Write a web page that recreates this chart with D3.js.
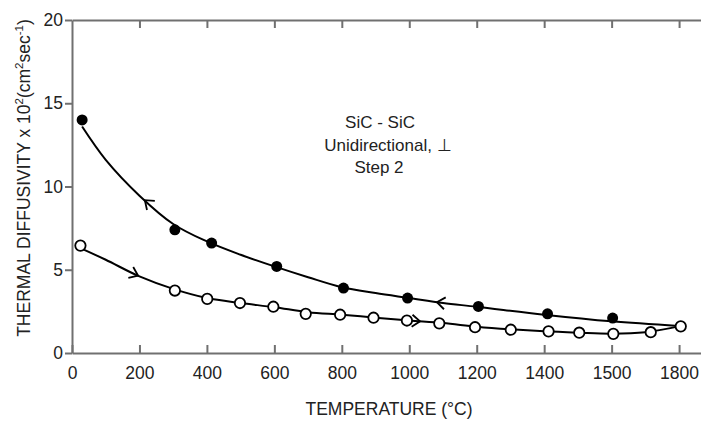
<!DOCTYPE html>
<meta charset="utf-8">
<script src="https://d3js.org/d3.v7.min.js"></script>
<style>
  body { margin: 0; background: #fff; }
  text { font-family: "Liberation Sans", Arial, sans-serif; fill: #222; }
</style>
<div id="my_dataviz"></div>
<script>

// measured points, cooling (filled) and heating (open)
var coolTemp = [30, 305, 414, 607, 805, 995, 1205, 1410, 1603];
var coolDiff = [14.0, 7.4, 6.6, 5.2, 3.9, 3.3, 2.8, 2.35, 2.1];
var heatTemp = [25, 305, 401, 498, 597, 693, 795, 894, 993, 1089, 1195, 1301, 1413, 1504, 1605, 1716, 1805];
var heatDiff = [6.45, 3.75, 3.25, 3.0, 2.78, 2.35, 2.3, 2.12, 1.95, 1.78, 1.55, 1.4, 1.3, 1.22, 1.15, 1.25, 1.6];

// hand drawn curves through the points
var coolCurveT = [30, 100, 200, 300, 400, 500, 600, 700, 800, 900, 1000, 1100, 1200, 1400, 1600, 1800];
var coolCurveD = [13.6, 11.6, 9.45, 7.75, 6.7, 5.9, 5.2, 4.55, 3.95, 3.6, 3.3, 3.0, 2.78, 2.3, 1.9, 1.62];
var heatCurveT = [25, 100, 200, 300, 400, 500, 600, 700, 800, 900, 1000, 1100, 1200, 1300, 1400, 1500, 1600, 1700, 1800];
var heatCurveD = [6.3, 5.6, 4.6, 3.85, 3.3, 3.0, 2.75, 2.45, 2.3, 2.12, 1.95, 1.8, 1.58, 1.42, 1.3, 1.22, 1.16, 1.25, 1.6];

// direction arrows on the curves
var coolArrowT = [216, 1082];
var heatArrowT = [196, 1032];

// axis ticks (the original figure prints 1500 at the 1600 mark)
var xTicks = [0, 200, 400, 600, 800, 1000, 1200, 1400, 1600, 1800];
var xTickLabels = ["0", "200", "400", "600", "800", "1000", "1200", "1400", "1500", "1800"];
var yTicks = [0, 5, 10, 15, 20];

var noteLines = ["SiC - SiC", "Unidirectional, \u22A5", "Step 2"];

var W = 701, H = 421;
var svg = d3.select("#my_dataviz")
  .append("svg")
    .attr("width", W)
    .attr("height", H);

var x = d3.scaleLinear().domain([0, 1865]).range([72, 701]);
var y = d3.scaleLinear().domain([0, 20]).range([353, 20]);

var axisColor = "#707070";

// bottom axis, ticks pointing inward
var gx = svg.append("g")
  .attr("transform", "translate(0," + y(0) + ")")
  .call(d3.axisBottom(x).tickValues(xTicks).tickSize(-8).tickSizeOuter(0)
    .tickFormat(function(d, i) { return xTickLabels[i]; }));
gx.selectAll("text").attr("y", 14).style("font-size", "17.5px").attr("fill", "#222");

// top frame line with ticks
svg.append("g")
  .attr("transform", "translate(0," + y(20) + ")")
  .call(d3.axisTop(x).tickValues(xTicks.slice(1)).tickSize(-8).tickSizeOuter(0).tickFormat(""));

// left axis
var gy = svg.append("g")
  .attr("transform", "translate(" + x(0) + ",0)")
  .call(d3.axisLeft(y).tickValues(yTicks).tickSize(7).tickPadding(2).tickSizeOuter(0));
gy.selectAll("text").style("font-size", "17.5px").attr("fill", "#222");

svg.selectAll(".domain, .tick line")
  .attr("stroke", axisColor)
  .attr("stroke-width", 2);

// axis titles
svg.append("text")
  .attr("x", 389)
  .attr("y", 415)
  .attr("text-anchor", "middle")
  .style("font-size", "17.5px")
  .text("TEMPERATURE (\u00B0C)");

var yl = svg.append("text")
  .attr("transform", "translate(30,178) rotate(-90)")
  .attr("text-anchor", "middle")
  .style("font-size", "17.5px");
yl.append("tspan").text("THERMAL DIFFUSIVITY x 10");
yl.append("tspan").attr("dy", -7).style("font-size", "11.5px").text("2");
yl.append("tspan").attr("dy", 7).text("(cm");
yl.append("tspan").attr("dy", -7).style("font-size", "11.5px").text("2");
yl.append("tspan").attr("dy", 7).text("sec");
yl.append("tspan").attr("dy", -7).style("font-size", "11.5px").text("-1");
yl.append("tspan").attr("dy", 7).text(")");

// curves
var line = d3.line()
  .x(function(d) { return x(d[0]); })
  .y(function(d) { return y(d[1]); })
  .curve(d3.curveCatmullRom.alpha(0.5));

var coolCurve = coolCurveT.map(function(t, i) { return [t, coolCurveD[i]]; });
var heatCurve = heatCurveT.map(function(t, i) { return [t, heatCurveD[i]]; });

svg.append("path").datum(coolCurve)
  .attr("d", line).attr("fill", "none").attr("stroke", "#000").attr("stroke-width", 2);
svg.append("path").datum(heatCurve)
  .attr("d", line).attr("fill", "none").attr("stroke", "#000").attr("stroke-width", 2);

// arrow chevrons, oriented along the curve
function drawArrows(temps, curveT, curveD, dir) {
  var f = d3.scaleLinear().domain(curveT).range(curveD);
  temps.forEach(function(t) {
    var px = x(t), py = y(f(t));
    var dx = x(t + 20) - x(t - 20), dy = y(f(t + 20)) - y(f(t - 20));
    var ang = Math.atan2(dy, dx) * 180 / Math.PI + (dir < 0 ? 180 : 0);
    svg.append("path")
      .attr("d", "M-8,-6L0,0L-8,6")
      .attr("transform", "translate(" + px + "," + py + ") rotate(" + ang + ")")
      .attr("fill", "none")
      .attr("stroke", "#000")
      .attr("stroke-width", 1.8);
  });
}
drawArrows(coolArrowT, coolCurveT, coolCurveD, -1);
drawArrows(heatArrowT, heatCurveT, heatCurveD, 1);

// points
svg.selectAll("circle.cool")
  .data(coolTemp)
  .enter().append("circle")
  .attr("class", "cool")
  .attr("cx", function(d) { return x(d); })
  .attr("cy", function(d, i) { return y(coolDiff[i]); })
  .attr("r", 5.5)
  .attr("fill", "#000");

svg.selectAll("circle.heat")
  .data(heatTemp)
  .enter().append("circle")
  .attr("class", "heat")
  .attr("cx", function(d) { return x(d); })
  .attr("cy", function(d, i) { return y(heatDiff[i]); })
  .attr("r", 5.2)
  .attr("fill", "#fff")
  .attr("stroke", "#000")
  .attr("stroke-width", 1.8);

// note
svg.selectAll("text.note")
  .data(noteLines)
  .enter().append("text")
  .attr("class", "note")
  .attr("x", function(d, i) { return [380, 388, 379][i]; })
  .attr("y", function(d, i) { return [128, 151, 173][i]; })
  .attr("text-anchor", "middle")
  .style("font-size", "17px")
  .text(function(d) { return d; });

</script>
